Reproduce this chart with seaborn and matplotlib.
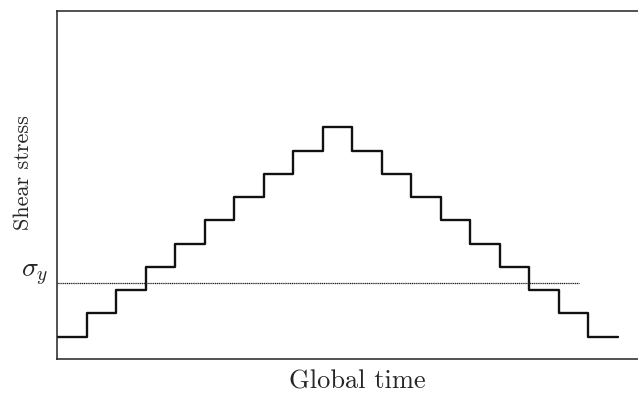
import numpy as np
import pandas as pd
import seaborn as sns
import matplotlib.pyplot as plt

# step loading: time index and shear stress level
tiempo = list(range(20))
nivel = [1, 2, 3, 4, 5, 6, 7, 8, 9, 10, 9, 8, 7, 6, 5, 4, 3, 2, 1, 1]
sigma_y = 3.29
sigma_fin = 17.7

df = pd.DataFrame({'t': tiempo, 's': nivel})

sns.set_style('white')
plt.rcParams['font.family'] = ['cmr10', 'DejaVu Serif']
plt.rcParams['mathtext.fontset'] = 'cm'
plt.rcParams['axes.formatter.use_mathtext'] = True

fig = plt.figure(figsize=(6.38, 3.94), dpi=100)
ax = fig.add_axes([0.0898, 0.0888, 1.0235 - 0.0898, 0.972 - 0.0888])

sns.lineplot(data=df, x='t', y='s', drawstyle='steps-post', color='#111111',
             linewidth=1.7, ax=ax)
ax.plot([0, sigma_fin], [sigma_y, sigma_y], linestyle=(0, (1, 0.5)),
        color='#222222', linewidth=0.9)

ax.set_xlim(0, 20.2)
ax.set_ylim(0.04, 15)
ax.set_xticks([])
ax.set_yticks([])
ax.set_xlabel('')
ax.set_ylabel('')
fig.text(0.56, 0.0152, 'Global time', ha='center', va='baseline', fontsize=19)
fig.text(0.037, 0.562, 'Shear stress', rotation=90, ha='center', va='center', fontsize=16)
fig.text(0.055, 0.302, r'$\sigma_y$', ha='center', va='center', fontsize=20)

for lado in ['left', 'top', 'bottom']:
    ax.spines[lado].set_color('#222222')
    ax.spines[lado].set_linewidth(1.1)
ax.spines['right'].set_visible(False)

fig.savefig('out.png', dpi=100)
